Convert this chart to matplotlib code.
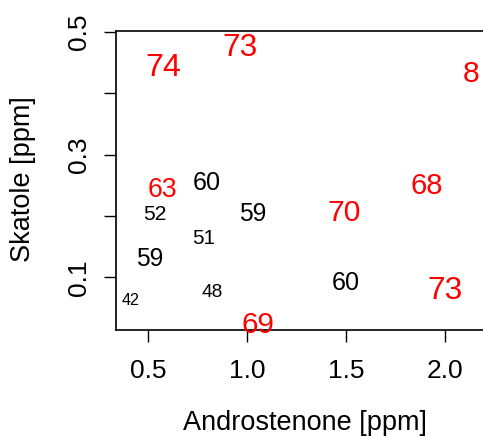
import matplotlib
matplotlib.use("Agg")
import matplotlib.pyplot as plt

# androstenone / skatole readings with panel score labels
andro = [0.574, 0.965, 2.130, 0.572, 0.796, 0.532, 1.027, 1.487,
         1.906, 0.780, 0.507, 1.499, 2.001, 0.412, 0.823, 1.055]
skatole = [0.448, 0.479, 0.436, 0.246, 0.257, 0.2055, 0.207, 0.209,
           0.2525, 0.166, 0.132, 0.0946, 0.0837, 0.064, 0.0783, 0.0269]
score = [74, 73, 70, 63, 60, 52, 59, 70,
         68, 51, 59, 60, 73, 42, 48, 69]
labels = ["74", "73", "8", "63", "60", "52", "59", "70",
          "68", "51", "59", "60", "73", "42", "48", "69"]

xticks = [0.5, 1.0, 1.5, 2.0]
xtick_labels = ["0.5", "1.0", "1.5", "2.0"]
yticks = [0.1, 0.2, 0.3, 0.4, 0.5]
ytick_labels = ["0.1", "", "0.3", "", "0.5"]

plt.rcParams['font.family'] = ['Liberation Sans', 'DejaVu Sans']

fig = plt.figure(figsize=(4.83, 4.37), dpi=100)
ax = fig.add_axes([0.2395, 0.2442, 0.775, 0.685])
ax.set_xlim(0.335, 2.226)
ax.set_ylim(0.0135, 0.502)

for x, y, s, lab in zip(andro, skatole, score, labels):
    fs = 0.36 * s - 3.5
    col = 'red' if s > 61 else 'black'
    ax.annotate(lab, (x, y), xytext=(0, -0.358 * fs), textcoords='offset points',
                ha='center', va='baseline', fontsize=fs, color=col,
                annotation_clip=False, clip_on=False, zorder=5)

ax.set_xticks(xticks)
ax.set_xticklabels(xtick_labels)
ax.set_yticks(yticks)
ax.set_yticklabels(ytick_labels, rotation=90, va='center')
ax.tick_params(axis='both', direction='out', length=8.6, width=1, labelsize=19)
ax.tick_params(axis='x', pad=12)
ax.tick_params(axis='y', pad=9.5)
ax.spines['right'].set_visible(False)
for sp in ['left', 'bottom', 'top']:
    ax.spines[sp].set_linewidth(1.2)

ax.set_xlabel("Androstenone [ppm]", fontsize=19.5)
ax.set_ylabel("Skatole [ppm]", fontsize=19.5)
ax.xaxis.set_label_coords(0.505, -0.266)
ax.yaxis.set_label_coords(-0.212, 0.505)

fig.savefig("out.png", dpi=100)
